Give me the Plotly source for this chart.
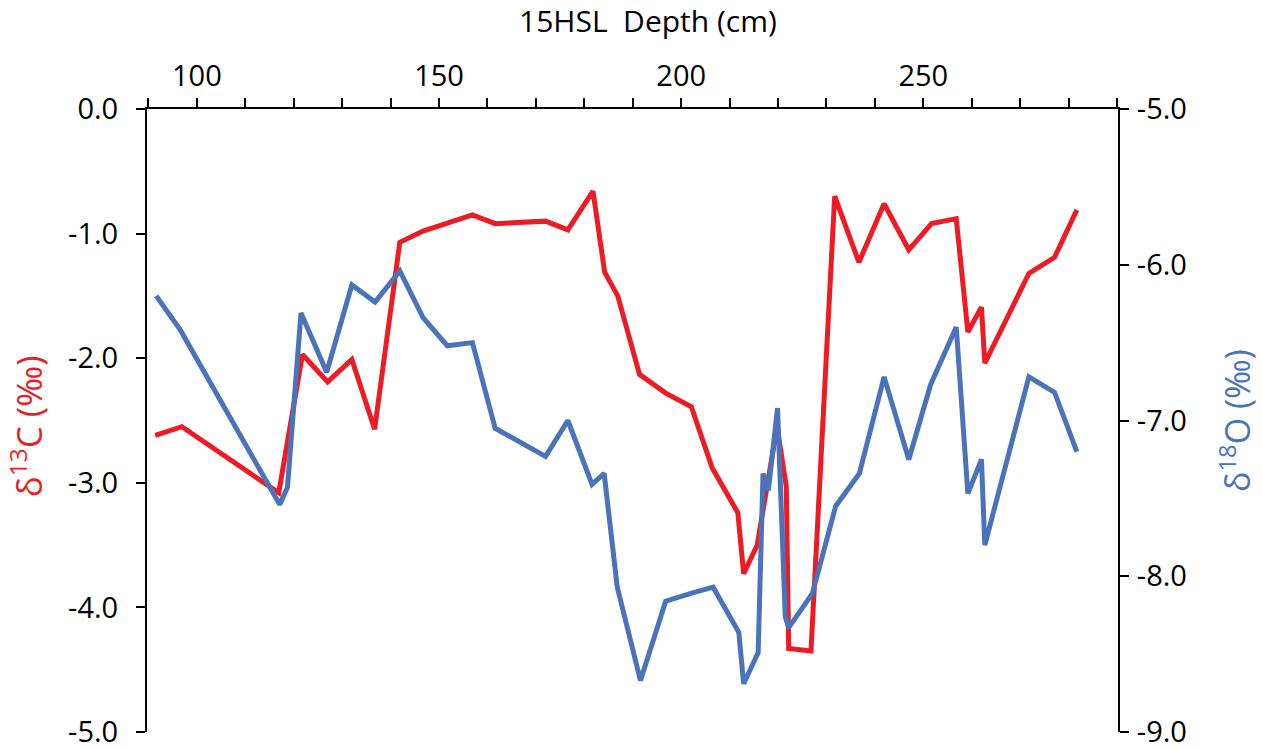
import plotly.graph_objects as go

# δ13C series (left axis)
depth_c = [91.4, 96.9, 116.9, 121.8, 127.0, 132.0, 136.7, 141.9, 146.7, 156.9,
           161.6, 172.0, 176.6, 181.8, 184.2, 186.9, 191.4, 196.8, 202.1, 206.4,
           211.7, 212.9, 215.7, 219.8, 221.7, 222.2, 226.8, 231.7, 236.7, 241.9,
           247.0, 251.7, 256.8, 259.2, 262.0, 262.7, 271.8, 277.1, 281.7]
d13c = [-2.62, -2.55, -3.08, -1.97, -2.19, -2.01, -2.57, -1.07, -0.98, -0.85,
        -0.92, -0.90, -0.97, -0.66, -1.31, -1.50, -2.13, -2.28, -2.39, -2.88,
        -3.24, -3.73, -3.50, -2.55, -3.03, -4.33, -4.35, -0.70, -1.23, -0.76,
        -1.13, -0.92, -0.88, -1.79, -1.59, -2.04, -1.32, -1.19, -0.81]

# δ18O series (right axis)
depth_o = [91.6, 96.6, 117.1, 118.7, 121.5, 126.8, 132.0, 136.8, 141.9, 146.7,
           151.7, 156.9, 161.6, 172.0, 176.6, 181.6, 184.1, 186.8, 191.6, 196.8,
           202.0, 206.6, 211.9, 212.9, 215.9, 216.9, 218.0, 219.9, 221.5, 222.2,
           227.1, 231.9, 236.8, 241.9, 247.0, 251.5, 256.8, 259.2, 262.0, 262.7,
           271.8, 277.1, 281.7]
d18o = [-6.20, -6.42, -7.54, -7.43, -6.31, -6.69, -6.13, -6.24, -6.04, -6.34,
        -6.52, -6.50, -7.05, -7.23, -7.00, -7.41, -7.34, -8.07, -8.67, -8.16,
        -8.11, -8.07, -8.36, -8.69, -8.49, -7.34, -7.45, -6.92, -8.26, -8.33,
        -8.11, -7.55, -7.34, -6.72, -7.25, -6.77, -6.40, -7.47, -7.25, -7.80,
        -6.72, -6.82, -7.20]

x_major = [100, 150, 200, 250]
yl_ticks = [0.0, -1.0, -2.0, -3.0, -4.0, -5.0]
yr_ticks = [-5.0, -6.0, -7.0, -8.0, -9.0]

RED = "#ED1C24"
BLUE = "#4A73B9"
FONT = "Open Sans"
TICK = 29

axis_common = dict(ticks="outside", ticklen=9, tickwidth=2, tickcolor="black",
                   showline=True, linecolor="black", linewidth=2, showgrid=False,
                   zeroline=False, automargin=False, ticklabeloverflow="allow",
                   tickfont=dict(size=TICK, family=FONT, color="black"))

fig = go.Figure()
fig.add_trace(go.Scatter(x=depth_c, y=d13c, mode="lines", yaxis="y",
                         line=dict(color=RED, width=5), name="δ13C"))
fig.add_trace(go.Scatter(x=depth_o, y=d18o, mode="lines", yaxis="y2",
                         line=dict(color=BLUE, width=5), name="δ18O"))

fig.update_layout(
    width=1262, height=749,
    margin=dict(l=147, r=144, t=109, b=17, autoexpand=False),
    paper_bgcolor="white", plot_bgcolor="white",
    showlegend=False,
    font=dict(family=FONT, color="black", size=TICK),
    xaxis=dict(side="top", range=[89.7, 290.2], tickvals=x_major,
               ticktext=[str(v) for v in x_major], ticklabelstandoff=0,
               minor=dict(tick0=90, dtick=10, ticks="outside", ticklen=9, tickwidth=2,
                          tickcolor="black", showgrid=False),
               **axis_common),
    yaxis=dict(range=[-5, 0], tickvals=yl_ticks, ticktext=[f"{v:.1f}" for v in yl_ticks],
               ticklabelstandoff=12, **axis_common),
    yaxis2=dict(range=[-9, -5], overlaying="y", side="right", tickvals=yr_ticks,
                ticktext=[f"{v:.1f}" for v in yr_ticks], ticklabelstandoff=2,
                **axis_common),
)

fig.add_annotation(text="15HSL\u00a0 Depth (cm)", xref="paper", yref="paper",
                   x=0.516, y=1.142, xanchor="center", yanchor="middle",
                   showarrow=False, font=dict(size=30, family=FONT, color="black"))
fig.add_annotation(text="δ<sup>13</sup>C (‰)", xref="paper", yref="paper",
                   x=-0.124, y=0.49, xanchor="center", yanchor="middle", textangle=-90,
                   showarrow=False, font=dict(size=35, family=FONT, color=RED))
fig.add_annotation(text="δ<sup>18</sup>O (‰)", xref="paper", yref="paper",
                   x=1.121, y=0.5, xanchor="center", yanchor="middle", textangle=-90,
                   showarrow=False, font=dict(size=34, family=FONT, color=BLUE))

fig.write_html("out.html", config={"displayModeBar": False},
               post_script="document.body.style.margin='0px';document.body.style.overflow='hidden';")
